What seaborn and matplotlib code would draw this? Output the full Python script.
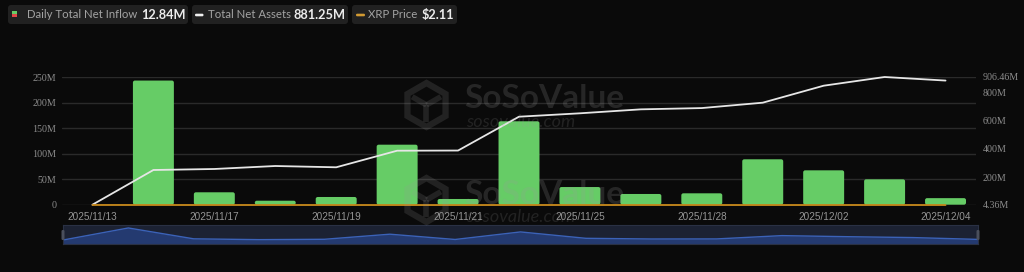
import numpy as np
import pandas as pd
import matplotlib
matplotlib.use("Agg")
import matplotlib.pyplot as plt
import seaborn as sns
from matplotlib.patches import FancyBboxPatch, RegularPolygon, Rectangle
from matplotlib.lines import Line2D

# ---------------- data ----------------
dates = ['2025/11/13', '2025/11/14', '2025/11/17', '2025/11/18', '2025/11/19',
         '2025/11/20', '2025/11/21', '2025/11/24', '2025/11/25', '2025/11/26',
         '2025/11/28', '2025/12/01', '2025/12/02', '2025/12/03', '2025/12/04']
inflow_m = [0, 243.05, 24.3, 7.8, 15.1, 117.5, 11.2, 163.3, 34.6, 21.0,
            22.3, 88.9, 67.3, 49.7, 12.84]
assets_m = [4.36, 249.5, 256.6, 277.7, 268.6, 385.8, 387.0, 626.0, 650.0,
            678.0, 687.0, 725.0, 845.0, 906.46, 881.25]
xrp_price = [2.38, 2.27, 2.15, 2.20, 2.13, 2.03, 1.94, 2.23, 2.22, 2.20,
             2.20, 2.03, 2.16, 2.21, 2.11]
left_ticks = [0, 50, 100, 150, 200, 250]
left_labels = ['0', '50M', '100M', '150M', '200M', '250M']
right_ticks = [4.36, 200, 400, 600, 800, 906.46]
right_labels = ['4.36M', '200M', '400M', '600M', '800M', '906.46M']
legend_items = [('Daily Total Net Inflow', '12.84M'),
                ('Total Net Assets', '881.25M'),
                ('XRP Price', '$2.11')]

# ---------------- style ----------------
BG = '#0a0a0a'
GREEN = '#66cc66'
RED = '#e04848'
WHITE_LINE = '#e6e6e6'
ORANGE = '#c98a1c'
GRID = '#2a2a2a'
TICK = '#8c8c8c'
WM = '#9a9a9a'

sns.set_theme(style='dark')
plt.rcParams.update({
    'figure.facecolor': BG,
    'axes.facecolor': BG,
    'savefig.facecolor': BG,
    'axes.edgecolor': BG,
})
plt.rcParams['font.family'] = ['Lato', 'DejaVu Sans']

W, H = 1024, 272
fig = plt.figure(figsize=(W / 100, H / 100), dpi=100)

x0, x1 = 62, 976
y_top, y_bot = 77, 204.7
ax = fig.add_axes([x0 / W, 1 - y_bot / H, (x1 - x0) / W, (y_bot - y_top) / H])

df = pd.DataFrame({'date': dates, 'inflow': inflow_m, 'assets': assets_m,
                   'price': xrp_price, 'idx': np.arange(len(dates))})

sns.barplot(data=df, x='date', y='inflow', ax=ax, color=GREEN,
            width=41 / 61, saturation=1, zorder=2)

# rounded bar tops
px_x = (x1 - x0) / len(dates)
px_y = (y_bot - y_top) / 250
for p in list(ax.patches):
    bx, by = p.get_x(), p.get_y()
    bw, bh = p.get_width(), p.get_height()
    p.remove()
    if bh <= 0:
        continue
    r = 2.0 / px_x
    fb = FancyBboxPatch((bx, by), bw, bh,
                        boxstyle=f'round,pad=0,rounding_size={r}',
                        mutation_aspect=px_x / px_y,
                        fc=GREEN, ec='none', zorder=2)
    ax.add_patch(fb)

ax.set_xlim(-0.5, len(dates) - 0.5)
ax.set_ylim(0, 250)
ax.set_yticks(left_ticks)
ax.set_yticklabels(left_labels, fontfamily='Liberation Serif', fontsize=7.2,
                   color=TICK)
ax.set_xticks(np.arange(0, len(dates), 2))
ax.set_xticklabels(dates[::2], fontfamily='Liberation Sans', fontsize=7.2,
                   color='#959595')
ax.tick_params(axis='x', length=0, pad=5.5)
ax.tick_params(axis='y', length=0, pad=4.2)
ax.grid(axis='y', color=GRID, lw=1.0, zorder=0)
ax.grid(axis='x', visible=False)
ax.set_xlabel('')
ax.set_ylabel('')
for s in ax.spines.values():
    s.set_visible(False)

ax2 = ax.twinx()
sns.lineplot(data=df, x='idx', y='assets', ax=ax2, color=WHITE_LINE, lw=1.3,
             zorder=3, clip_on=False)
sns.lineplot(data=df, x='idx', y='price', ax=ax2, color=ORANGE, lw=1.3,
             zorder=3, clip_on=False)
ax2.set_ylim(4.36, 906.46)
ax2.set_yticks(right_ticks)
ax2.set_yticklabels(right_labels, fontfamily='Liberation Serif', fontsize=7.2,
                    color=TICK)
ax2.tick_params(axis='y', length=0, pad=5.0)
ax2.grid(False)
ax2.set_xlabel('')
ax2.set_ylabel('')
ax2.set_xlim(-0.5, len(dates) - 0.5)
for s in ax2.spines.values():
    s.set_visible(False)

# ---------------- legend chips ----------------
def P(x, y):
    return (x / 100, (H - y) / 100)

chips = [(8, 188), (192, 348), (352, 457)]
label_x = [27, 208, 368]
value_x = [141, 293, 422]
for (cx0, cx1), (lab, val), lx, vx in zip(chips, legend_items, label_x, value_x):
    fig.add_artist(FancyBboxPatch(P(cx0, 24), (cx1 - cx0) / 100, 19 / 100,
                                  boxstyle='round,pad=0,rounding_size=0.03',
                                  transform=fig.dpi_scale_trans,
                                  fc='#212121', ec='none'))
    fig.text(lx / W, 1 - 15 / H, lab, color='#a3a3a3', fontsize=8.2,
             va='center', ha='left')
    fig.text(vx / W, 1 - 15 / H, val, color='#ececec', fontsize=9.2,
             fontweight='bold', va='center', ha='left')

# inflow icon: green top, red bottom
fig.add_artist(Rectangle(P(11.5, 14.2), 5 / 100, 2.7 / 100,
                         transform=fig.dpi_scale_trans, fc=GREEN, ec='none'))
fig.add_artist(Rectangle(P(11.5, 16.9), 5 / 100, 2.7 / 100,
                         transform=fig.dpi_scale_trans, fc=RED, ec='none'))
# assets icon
fig.add_artist(FancyBboxPatch(P(195, 16.3), 8.5 / 100, 2.6 / 100,
                              boxstyle='round,pad=0,rounding_size=0.012',
                              transform=fig.dpi_scale_trans,
                              fc='#f0f0f0', ec='none'))
# price icon
fig.add_artist(FancyBboxPatch(P(356, 16.3), 9 / 100, 2.6 / 100,
                              boxstyle='round,pad=0,rounding_size=0.012',
                              transform=fig.dpi_scale_trans,
                              fc='#d29a32', ec='none'))

# ---------------- watermarks ----------------
for dy in (0, 95):
    cx, cy = 426.5, 105 + dy
    fig.add_artist(RegularPolygon(P(cx, cy), 6, radius=0.22,
                                  orientation=0,
                                  transform=fig.dpi_scale_trans,
                                  fc='none', ec=WM, lw=4.5, alpha=0.17,
                                  zorder=10))
    # inner cube strokes
    r = 22
    pts_y = [(cx, cy), (cx, cy + r * 0.75)]
    pts_l = [(cx, cy), (cx - r * 0.75 * 0.866, cy - r * 0.75 * 0.5)]
    pts_r = [(cx, cy), (cx + r * 0.75 * 0.866, cy - r * 0.75 * 0.5)]
    for pts in (pts_y, pts_l, pts_r):
        xs = [P(a, b)[0] for a, b in pts]
        ys = [P(a, b)[1] for a, b in pts]
        fig.add_artist(Line2D(xs, ys, transform=fig.dpi_scale_trans,
                              color=WM, lw=4, alpha=0.17, zorder=10,
                              solid_capstyle='butt'))
    fig.text(464 / W, 1 - (99 + dy) / H, 'SoSoValue', color=WM,
             alpha=0.2, fontsize=24, fontweight='bold', va='center',
             ha='left', zorder=10)
    fig.text(466 / W, 1 - (122 + dy) / H, 'sosovalue.com', color=WM,
             alpha=0.17, fontsize=13, style='italic', va='center', ha='left',
             zorder=10)

# ---------------- navigator ----------------
nx0, nx1, ny0, ny1 = 63, 978, 225, 244
nav = fig.add_axes([nx0 / W, 1 - ny1 / H, (nx1 - nx0) / W, (ny1 - ny0) / H])
nav.set_facecolor('#1c2233')
nav.fill_between(df['idx'], -80, df['inflow'], color='#243a70', lw=0)
sns.lineplot(data=df, x='idx', y='inflow', ax=nav, color='#3b62b8', lw=1.0)
nav.set_xlim(0, len(dates) - 1)
nav.set_ylim(-80, 303)
nav.set_xticks([])
nav.set_yticks([])
nav.set_xlabel('')
nav.set_ylabel('')
nav.grid(False)
for s in nav.spines.values():
    s.set_color('#2a3144')
    s.set_linewidth(0.8)
for hx in (nx0 - 1.5, nx1 - 1.5):
    fig.add_artist(FancyBboxPatch(P(hx, 240), 3 / 100, 10 / 100,
                                  boxstyle='round,pad=0,rounding_size=0.012',
                                  transform=fig.dpi_scale_trans,
                                  fc='#4a4f5c', ec='none', zorder=5))

fig.savefig('out.png', dpi=100, facecolor=BG)
